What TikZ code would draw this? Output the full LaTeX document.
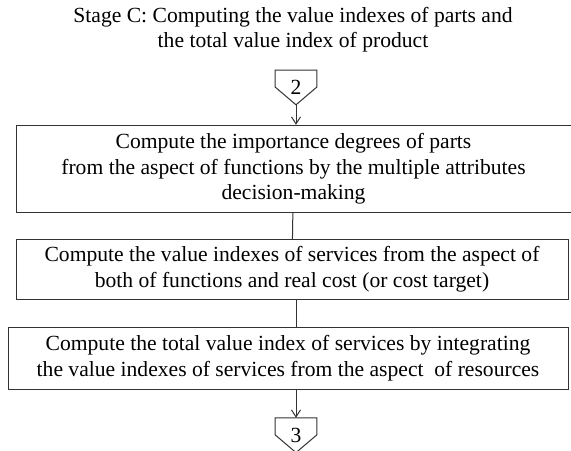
\documentclass[tikz,border=0pt]{standalone}
\usepackage{fontspec}
\setmainfont{Liberation Serif}
\usetikzlibrary{positioning,arrows.meta}

% outline of an off-page connector round a node
\newcommand{\offpageframe}[1]{%
  \draw[link] (#1.north west) -- (#1.north east) -- ([yshift=-8.5pt]#1.north east)
    -- (#1.south) -- ([yshift=-8.5pt]#1.north west) -- cycle;}

\begin{document}
\begin{tikzpicture}[
    node distance=10pt,
    every node/.style={align=center, font=\fontsize{10.8pt}{12.75pt}\selectfont},
    stagebox/.style={rectangle, draw=black!80, line width=0.5pt, inner sep=0pt, text centered},
    offpage/.style={rectangle, minimum width=20.5pt, minimum height=17pt, inner sep=0pt},
    arrow/.style={draw=black!80, line width=0.5pt, -{Straight Barb[length=3.5pt,width=4.5pt]}},
    link/.style={draw=black!80, line width=0.5pt}
]
\useasboundingbox (0,0) rectangle (285.5pt,-225pt);

% Heading
\node (stage) at (146.5pt,-14.75pt) {Stage C: Computing the value indexes of parts and\\the total value index of product};

% Flow
\node[offpage, anchor=north] (in2) at (148pt,-35pt) {2};
\node[stagebox, minimum width=277.5pt, minimum height=43.5pt, below=10pt of in2, xshift=-1.25pt] (importance) {Compute the importance degrees of parts\\from the aspect of functions by the multiple attributes\\decision-making};
\node[stagebox, minimum width=276pt, minimum height=30pt, below=13pt of importance, xshift=-0.75pt] (servicevalue) {Compute the value indexes of services from the aspect of\\both of functions and real cost (or cost target)};
\node[stagebox, minimum width=280pt, minimum height=31pt, below=13.5pt of servicevalue, xshift=-2pt] (totalvalue) {Compute the total value index of services by integrating\\the value indexes of services from the aspect\ \ of resources};
\node[offpage, below=14pt of totalvalue, xshift=4pt] (in3) {3};
\offpageframe{in2}
\offpageframe{in3}

% Connectors
\draw[arrow] (in2.south) -- (in2.south |- importance.north);
\draw[link] (importance) -- (servicevalue);
\draw[link] (servicevalue.south -| in2.south) -- (totalvalue.north -| in2.south);
\draw[arrow] (totalvalue.south -| in3.north) -- (in3.north);

\end{tikzpicture}
\end{document}
